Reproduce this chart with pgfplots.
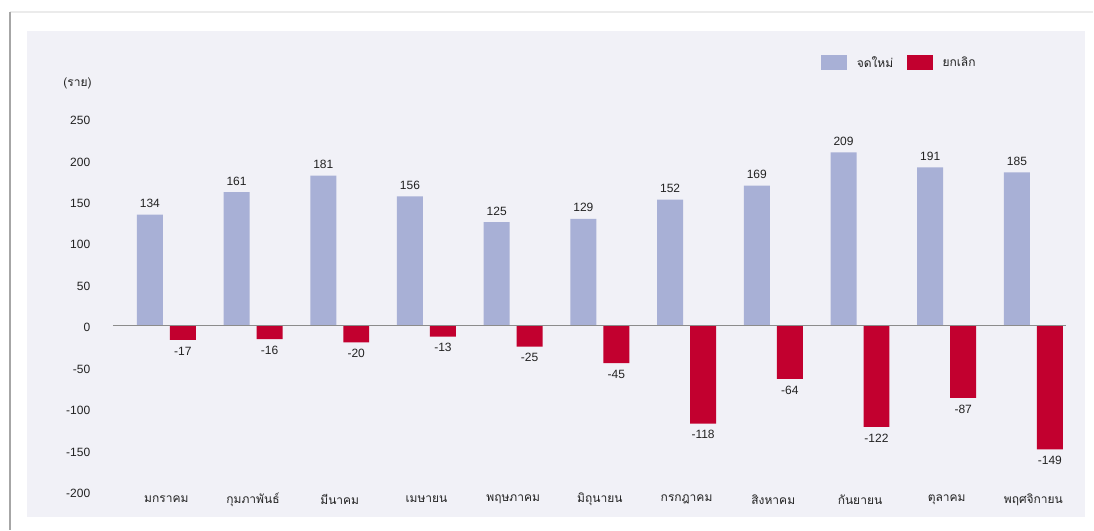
\documentclass[border=0pt]{standalone}
\usepackage{pgfplots}
\pgfplotsset{compat=1.18}
\usepackage{fontspec}
\setmainfont{Liberation Sans}
\newfontfamily\thai[Script=Thai]{Loma}
\definecolor{panelbg}{HTML}{F1F1F7}
\definecolor{newbar}{HTML}{A8B0D6}
\definecolor{cancelbar}{HTML}{C2002F}
\definecolor{txt}{HTML}{222222}
\begin{document}
\begin{tikzpicture}[x=0.75pt,y=0.75pt]
% page (1094 x 530 px, origin bottom-left)
\fill[white] (0,0) rectangle (1094,530);
\fill[panelbg] (27,13) rectangle (1086,499);
\draw[black!8, line width=1pt] (10,518) -- (1094,518);
\draw[black!35, line width=1.5pt] (10,0) -- (10,518);
\begin{axis}[
  at={(113pt*0.75,38pt*0.75)}, anchor=south west,
  scale only axis,
  width=715.5pt, height=311.25pt,
  xmin=-0.616, xmax=10.38,
  ymin=-200, ymax=300,
  ybar=5.25pt, bar width=19.5pt,
  axis line style={draw=none},
  tick style={draw=none},
  xtick={0,...,10},
  xticklabels={{\thai มกราคม},{\thai กุมภาพันธ์},{\thai มีนาคม},{\thai เมษายน},{\thai พฤษภาคม},{\thai มิถุนายน},{\thai กรกฎาคม},{\thai สิงหาคม},{\thai กันยายน},{\thai ตุลาคม},{\thai พฤศจิกายน}},
  xticklabel style={anchor=center, yshift=-1.5pt, font=\small, text=txt},
  ytick={-200,-150,...,250},
  yticklabel style={xshift=-13.5pt, yshift=-1.5pt, font=\small, text=txt},
  /pgf/number format/assume math mode=true,
  nodes near coords,
  every node near coord/.append style={font=\small, text=txt, inner sep=5pt},
  legend style={at={(rel axis cs:0.738,1.034)}, anchor=west, draw=none, fill=none,
    legend columns=2, font=\thai\small, text=txt},
  legend image code/.code={\fill[#1] (0pt,-5.6pt) rectangle (19.5pt,5.6pt);},
  clip=false,
]
\addplot[fill=newbar, draw=none] coordinates {
(0,134) (1,161) (2,181) (3,156) (4,125) (5,129) (6,152) (7,169) (8,209) (9,191) (10,185)};
\addplot[fill=cancelbar, draw=none] coordinates {
(0,-17) (1,-16) (2,-20) (3,-13) (4,-25) (5,-45) (6,-118) (7,-64) (8,-122) (9,-87) (10,-149)};
\legend{\hspace*{5.5pt}จดใหม่\hspace*{8pt},\hspace*{5.5pt}ยกเลิก}
\draw[black!45, line width=0.9pt] (rel axis cs:0,0.4) -- (rel axis cs:1,0.4);
\node[anchor=east, inner sep=0pt, font=\thai\small, text=txt] at (rel axis cs:-0.022,0.985) {(ราย)};
\end{axis}
\end{tikzpicture}
\end{document}
